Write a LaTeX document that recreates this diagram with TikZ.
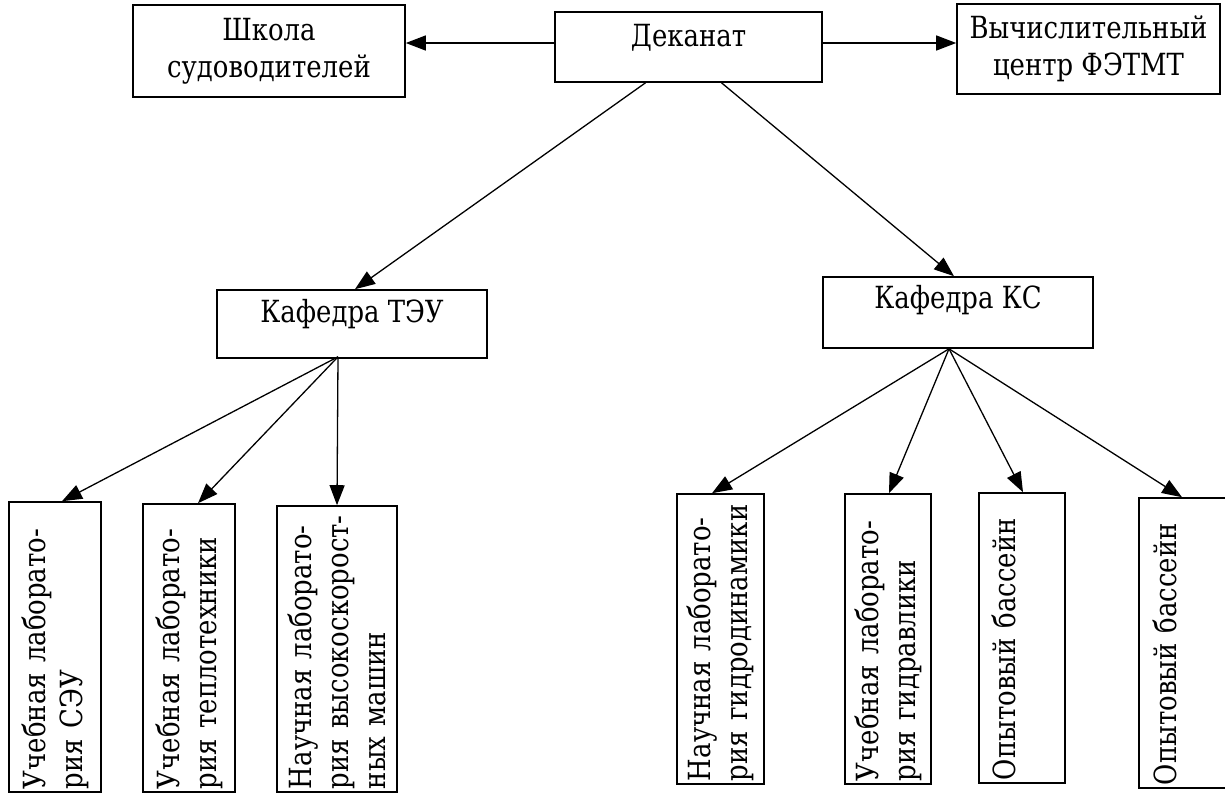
\documentclass[tikz,border=0pt]{standalone}
\usepackage{fontspec}
\newfontfamily\tnr[FakeStretch=0.85]{DejaVu Serif}
\usetikzlibrary{arrows.meta,calc}
\begin{document}
\begin{tikzpicture}[x=1pt,y=-1pt,
  txt/.style={font=\tnr\fontsize{30.5}{37}\selectfont},
  hbox/.style={txt, draw, line width=1.6pt, align=center, inner sep=0pt},
  vbox/.style={txt, draw, line width=1.6pt, rotate=90, align=left, inner xsep=3pt, inner ysep=0pt},
  link/.style={line width=1.3pt, -{Triangle[length=20pt,width=15pt]}}
]
\useasboundingbox (0,0) rectangle (1225,793);

% top row
\node[hbox, minimum width=272pt, minimum height=92pt] (sch) at (269,51) {Школа\\судоводителей};
\node[hbox, minimum width=267pt, minimum height=70pt] (dek) at (688.5,47) {\raisebox{9pt}[\height][\depth]{Деканат}};
\node[hbox, minimum width=263pt, minimum height=90pt] (vc) at (1088.5,49) {Вычислительный\\центр ФЭТМТ};

% departments
\node[hbox, minimum width=270pt, minimum height=68pt] (teu) at (352,324) {\raisebox{10pt}[\height][\depth]{Кафедра ТЭУ}};
\node[hbox, minimum width=270pt, minimum height=71pt] (ks) at (958,312.5) {\raisebox{12pt}[\height][\depth]{Кафедра КС}};

% laboratories
\node[vbox, text width=284pt, minimum height=92pt] (b1) at (55,647) {\mbox{Учебная лаборато-}\\\mbox{рия СЭУ}};
\node[vbox, text width=282pt, minimum height=92pt] (b2) at (189,648) {\mbox{Учебная лаборато-}\\\mbox{рия теплотехники}};
\node[vbox, text width=280pt, minimum height=120pt] (b3) at (337,649) {\mbox{Научная лаборато-}\\\mbox{рия высокоскорост-}\\\mbox{ных машин}};
\node[vbox, text width=284pt, minimum height=87pt] (b4) at (720.5,639) {\mbox{Научная лаборато-}\\\mbox{рия гидродинамики}};
\node[vbox, text width=284pt, minimum height=86pt] (b5) at (888,639) {\mbox{Учебная лаборато-}\\\mbox{рия гидравлики}};
\node[vbox, text width=284pt, minimum height=86pt] (b6) at (1022,638) {\mbox{Опытовый бассейн}\\\mbox{}};
\node[vbox, text width=284pt, minimum height=88pt] (b7) at (1183,643) {\mbox{Опытовый бассейн}\\\mbox{}};

% connectors
\draw[link] (dek.west |- 0,43) -- (sch.east |- 0,43);
\draw[link] (dek.east |- 0,43) -- (vc.west |- 0,43);
\draw[link] ($(dek.south)+(-43,0)$) -- ($(teu.north)+(3,0)$);
\draw[link] ($(dek.south)+(33,0)$) -- ($(ks.north)+(-4,0)$);

\coordinate (teuo) at ($(teu.south)+(-14,-2)$);
\draw[link] (teuo) -- ($(b1.east)+(7,0)$);
\draw[link] (teuo) -- ($(b2.east)+(9,0)$);
\draw[link] (teuo) -- (b3.east);

\coordinate (kso) at ($(ks.south)+(-9,0)$);
\draw[link] (kso) -- ($(b4.east)+(-8.5,0)$);
\draw[link] (kso) -- ($(b5.east)+(1,0)$);
\draw[link] (kso) -- ($(b6.east)+(1,0)$);
\draw[link] (kso) -- ($(b7.east)+(-1,0)$);
\end{tikzpicture}
\end{document}
